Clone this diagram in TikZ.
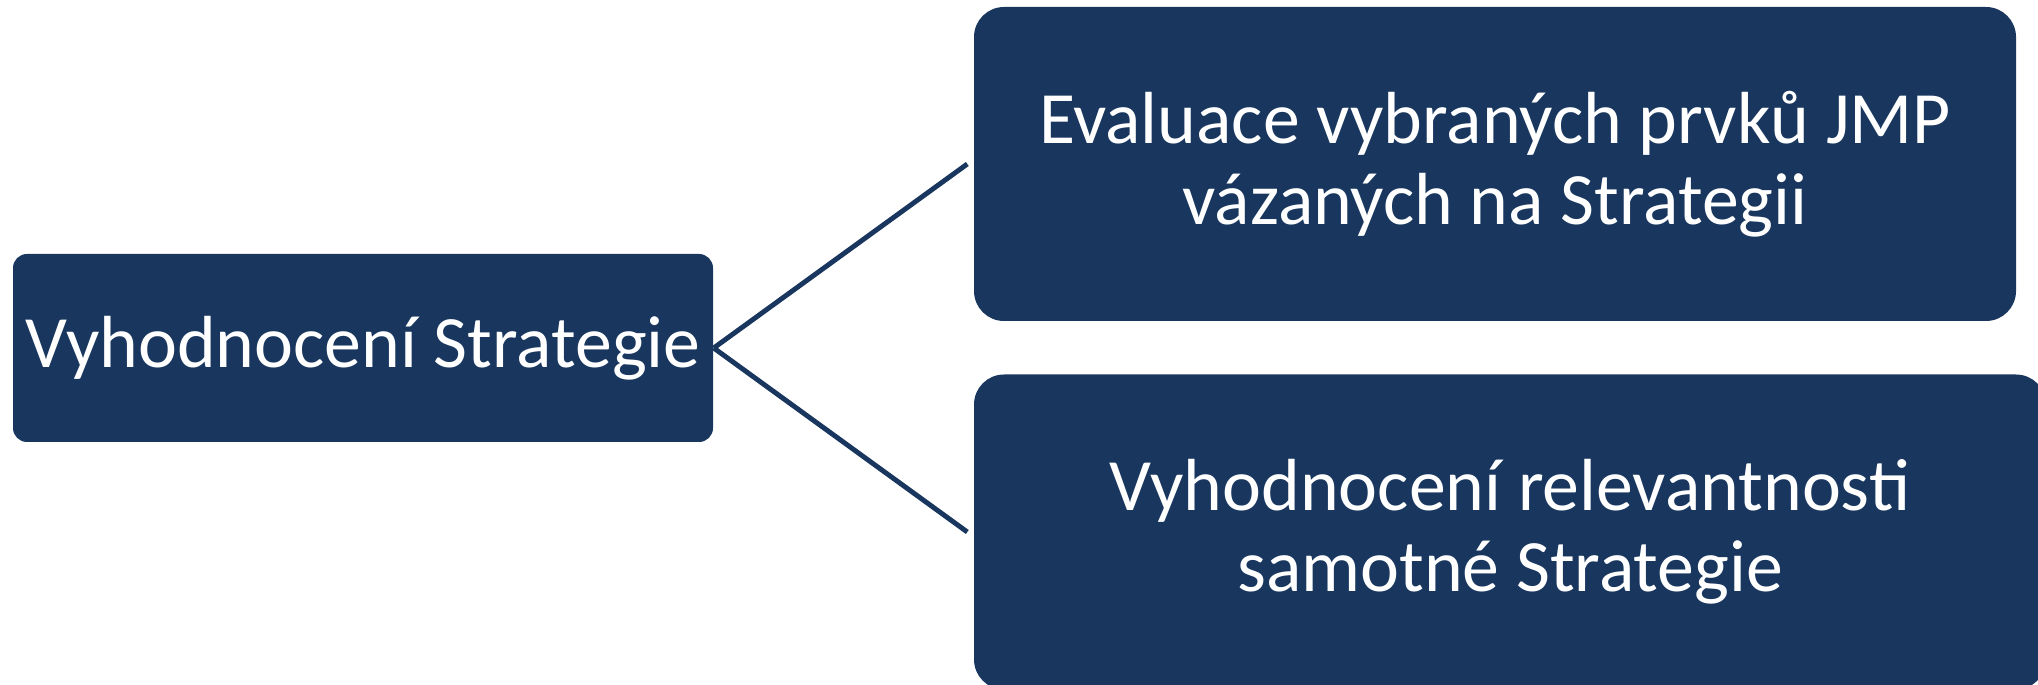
\documentclass[tikz,border=0pt]{standalone}
\usepackage{fontspec}
\setmainfont{Carlito}
\definecolor{boxblue}{RGB}{24,54,94}

\begin{document}
\begin{tikzpicture}
    \tikzstyle{box}=[fill=boxblue,text=white,align=center,inner sep=0pt,font=\fontsize{21pt}{23pt}\selectfont]
    \tikzstyle{link}=[draw=boxblue,line width=1.4pt]

    \useasboundingbox (0,0) rectangle (20.38,6.84);
    \clip (0,0) rectangle (20.38,6.84);

    \node[box, rounded corners=0.14cm, minimum width=7cm, minimum height=1.88cm] at (3.63,3.36) (vs) {Vyhodnocení Strategie};
    \node[box, rounded corners=0.3cm, minimum width=10.42cm, minimum height=3.14cm] at (14.95,5.20) (evp) {Evaluace vybraných prvků JMP\\vázaných na Strategii};
    \node[box, rounded corners=0.3cm, minimum width=10.72cm, minimum height=3.15cm] at (15.10,1.52) (vrs) {Vyhodnocení relevantnosti\\samotné Strategie};

    \draw[link] (vs.east) -- ([xshift=-0.06cm]evp.west);
    \draw[link] (vs.east) -- ([xshift=-0.06cm]vrs.west);
\end{tikzpicture}
\end{document}
